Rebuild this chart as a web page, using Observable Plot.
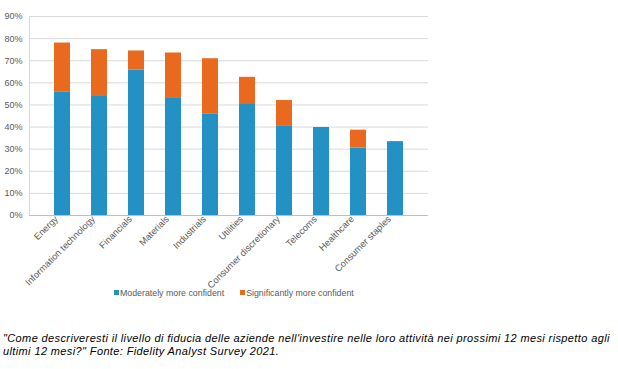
<!DOCTYPE html>
<html>
<head>
<meta charset="utf-8">
<script src="https://cdn.jsdelivr.net/npm/d3@7"></script>
<script src="https://cdn.jsdelivr.net/npm/@observablehq/plot@0.6"></script>
<style>
  body { margin: 0; background: #fff; font-family: "Liberation Sans", Arial, sans-serif; }
  #wrap { position: relative; width: 618px; height: 369px; overflow: hidden; }
  #chart { position: absolute; left: 0; top: 0; }
  #legend { position: absolute; left: 114px; top: 288px; font-size: 8.8px; color: #595959; white-space: nowrap; }
  #legend span.sw { display: inline-block; width: 5px; height: 5px; margin-right: 1px; vertical-align: 1px; }
  #legend span.item { margin-right: 16px; }
  #caption { position: absolute; left: 3px; top: 332px; font-size: 11px; letter-spacing: 0.38px; font-style: italic; color: #000; line-height: 13px; width: 615px; }
</style>
</head>
<body>
<div id="wrap">
  <div id="chart"></div>
  <div id="legend"></div>
  <div id="caption">"Come descriveresti il livello di fiducia delle aziende nell'investire nelle loro attività nei prossimi 12 mesi rispetto agli<br>ultimi 12 mesi?" Fonte: Fidelity Analyst Survey 2021.</div>
</div>
<script>
const categories = ["Energy", "Information technology", "Financials", "Materials", "Industrials", "Utilities", "Consumer discretionary", "Telecoms", "Healthcare", "Consumer staples"];
const seriesNames = ["Moderately more confident", "Significantly more confident"];
const moderate = [55.7, 54.2, 65.8, 53.3, 46.0, 50.2, 40.6, 39.8, 30.5, 33.4];
const significant = [22.3, 20.8, 8.6, 20.2, 24.9, 12.3, 11.4, 0, 8.1, 0];
const yTicks = [0, 10, 20, 30, 40, 50, 60, 70, 80, 90];
const colors = ["#2491c5", "#e96a1e"];

const rows = [];
categories.forEach((c, i) => {
  rows.push({category: c, series: seriesNames[0], value: moderate[i]});
  rows.push({category: c, series: seriesNames[1], value: significant[i]});
});

const chart = Plot.plot({
  width: 618,
  height: 305,
  marginTop: 16,
  marginBottom: 90,
  marginLeft: 29,
  marginRight: 190,
  style: {fontFamily: "Liberation Sans, Arial, sans-serif", fontSize: "9px", color: "#595959"},
  x: {domain: categories, padding: 0.58, label: null},
  y: {domain: [0, 90], label: null},
  color: {domain: seriesNames, range: colors},
  marks: [
    Plot.gridY(yTicks, {stroke: "#d9d9d9", strokeOpacity: 1}),
    Plot.frame({anchor: "left", stroke: "#d9d9d9"}),
    Plot.barY(rows, {x: "category", y: "value", fill: "series", order: seriesNames}),
    Plot.ruleY([0], {stroke: "#bfbfbf"}),
    Plot.axisY(yTicks, {tickFormat: d => d + "%", tickSize: 0, tickPadding: 7, fill: "#595959", fontSize: 9, label: null}),
    Plot.axisX({tickRotate: -45, tickSize: 0, tickPadding: 2, dx: -6, fill: "#595959", fontSize: 9.3, label: null})
  ]
});
document.getElementById("chart").appendChild(chart);

const legend = document.getElementById("legend");
seriesNames.forEach((s, i) => {
  const item = document.createElement("span");
  item.className = "item";
  item.innerHTML = `<span class="sw" style="background:${colors[i]}"></span>${s}`;
  legend.appendChild(item);
});
</script>
</body>
</html>
